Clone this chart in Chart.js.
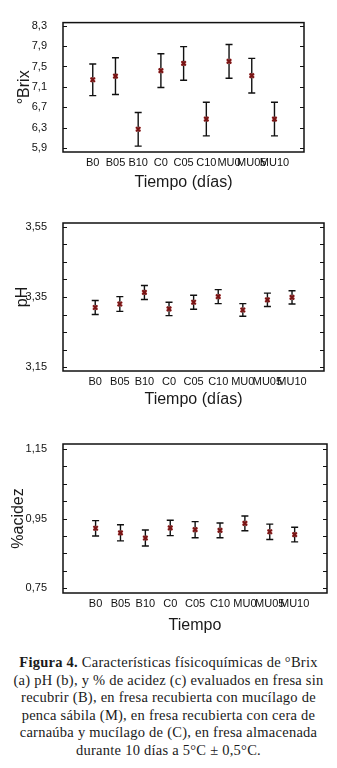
<!DOCTYPE html>
<html>
<head>
<meta charset="utf-8">
<script src="https://cdn.jsdelivr.net/npm/chart.js@4"></script>
<style>
  body { margin: 0; background: #fff; width: 337px; height: 768px; position: relative; overflow: hidden; }
  .panel { position: absolute; left: 0; width: 337px; }
  .caption {
    position: absolute; left: 0; top: 654px; width: 337px;
    text-align: center; font-family: "Liberation Serif", serif;
    font-size: 14.5px; letter-spacing: 0.25px; line-height: 17.5px; color: #1a1a1a;
    white-space: nowrap;
  }
</style>
</head>
<body>
<div class="panel" style="top:0;height:197px"><canvas id="brixChart" width="337" height="197"></canvas></div>
<div class="panel" style="top:200px;height:210px"><canvas id="phChart" width="337" height="210"></canvas></div>
<div class="panel" style="top:420px;height:215px"><canvas id="acidezChart" width="337" height="215"></canvas></div>
<div class="caption">
  <b>Figura 4.</b> Características físicoquímicas de °Brix<br>
  (a) pH (b), y % de acidez (c) evaluados en fresa sin<br>
  recubrir (B), en fresa recubierta con mucílago de<br>
  penca sábila (M), en fresa recubierta con cera de<br>
  carnaúba y mucílago de (C), en fresa almacenada<br>
  durante 10 días a 5°C ± 0,5°C.
</div>
<script>
const categories = ["B0", "B05", "B10", "C0", "C05", "C10", "MU0", "MU05", "MU10"];

const brixValues = [7.24, 7.31, 6.27, 7.42, 7.56, 6.47, 7.60, 7.32, 6.47];
const brixErrors = [0.31, 0.36, 0.33, 0.33, 0.33, 0.33, 0.33, 0.34, 0.33];
const brixTicks = [5.9, 6.3, 6.7, 7.1, 7.5, 7.9, 8.3];
const brixLabels = [5.9, 6.3, 6.7, 7.1, 7.5, 7.9, 8.3];

const phValues = [3.320, 3.330, 3.363, 3.316, 3.335, 3.351, 3.313, 3.342, 3.349];
const phErrors = [0.020, 0.021, 0.020, 0.019, 0.020, 0.020, 0.018, 0.019, 0.019];
const phTicks = [3.15, 3.20, 3.25, 3.30, 3.35, 3.40, 3.45, 3.50, 3.55];
const phLabels = [3.15, 3.35, 3.55];

const acidezValues = [0.922, 0.909, 0.894, 0.923, 0.918, 0.916, 0.936, 0.912, 0.904];
const acidezErrors = [0.022, 0.023, 0.023, 0.022, 0.023, 0.021, 0.021, 0.022, 0.021];
const acidezTicks = [0.75, 0.80, 0.85, 0.90, 0.95, 1.00, 1.05, 1.10, 1.15];
const acidezLabels = [0.75, 0.95, 1.15];

const FONT = "'Liberation Sans', Arial, sans-serif";

// error bars, frame and inward ticks, all placed through the chart scales
const errorBarPlugin = {
  id: "errorBars",
  beforeDatasetsDraw(chart, args, opts) {
    const { ctx, chartArea, scales } = chart;
    const x = scales.x, y = scales.y;
    ctx.save();
    ctx.strokeStyle = "#111";
    ctx.lineWidth = 1.4;
    opts.values.forEach((v, i) => {
      const px = x.getPixelForValue(i);
      const top = y.getPixelForValue(v + opts.errors[i]);
      const bot = y.getPixelForValue(v - opts.errors[i]);
      ctx.beginPath();
      ctx.moveTo(px, top); ctx.lineTo(px, bot);
      ctx.moveTo(px - 3.5, top); ctx.lineTo(px + 3.5, top);
      ctx.moveTo(px - 3.5, bot); ctx.lineTo(px + 3.5, bot);
      ctx.stroke();
    });
    // frame
    ctx.lineWidth = 1.5;
    ctx.strokeRect(chartArea.left, chartArea.top, chartArea.right - chartArea.left, chartArea.bottom - chartArea.top);
    // inward ticks on both sides
    ctx.lineWidth = 1.2;
    y.ticks.forEach((t) => {
      const py = Math.round(y.getPixelForValue(t.value)) + 0.5;
      ctx.beginPath();
      ctx.moveTo(chartArea.left, py); ctx.lineTo(chartArea.left + 4, py);
      ctx.moveTo(chartArea.right, py); ctx.lineTo(chartArea.right - 4, py);
      ctx.stroke();
    });
    ctx.restore();
  }
};

function makeChart(id, values, errors, ticks, labels, box, texts) {
  const points = values.map((v, i) => ({ x: i, y: v }));
  return new Chart(document.getElementById(id).getContext("2d"), {
    type: "scatter",
    data: {
      datasets: [
        { data: points, pointStyle: "crossRot", pointRadius: 3, borderColor: "#7a1414", borderWidth: 2, order: 0 },
        { data: points, pointStyle: "rect", pointRadius: 3.6, backgroundColor: "rgba(214,120,120,0.55)", borderWidth: 0, order: 1 }
      ]
    },
    options: {
      responsive: false,
      animation: false,
      events: [],
      layout: { padding: { top: box.top, right: 337 - box.right, left: 0, bottom: 0 } },
      plugins: {
        legend: { display: false },
        tooltip: { enabled: false },
        errorBars: { values, errors }
      },
      scales: {
        x: {
          type: "linear",
          min: -1.31,
          max: 9.3,
          grid: { display: false, drawTicks: false },
          border: { display: false },
          afterBuildTicks: (s) => { s.ticks = categories.map((c, i) => ({ value: i })); },
          afterFit: (s) => { s.height = box.height - box.bottom; },
          ticks: {
            autoSkip: false, maxRotation: 0, padding: 4,
            color: "#111", font: { family: FONT, size: 11 },
            callback: (v) => categories[v]
          },
          title: { display: true, text: texts.x, color: "#1a1a1a", font: { family: FONT, size: 16 }, padding: { bottom: texts.xPad, top: 0 } }
        },
        y: {
          min: box.min,
          max: box.max,
          grid: { display: false, drawTicks: false },
          border: { display: false },
          afterBuildTicks: (s) => { s.ticks = ticks.map((v) => ({ value: v })); },
          afterFit: (s) => { s.width = 63; },
          ticks: {
            autoSkip: false, padding: 16,
            color: "#111", font: { family: FONT, size: 11 },
            callback: (v) => labels.some((l) => Math.abs(l - v) < 1e-6) ? v.toFixed(String(labels[0]).split(".")[1].length).replace(".", ",") : ""
          },
          title: { display: true, text: texts.y, color: "#1a1a1a", font: { family: FONT, size: 16 }, padding: { top: texts.yPad, bottom: 0 } }
        }
      }
    },
    plugins: [errorBarPlugin]
  });
}

makeChart("brixChart", brixValues, brixErrors, brixTicks, brixLabels,
  { top: 17, bottom: 152, right: 304, height: 197, min: 5.825, max: 8.36 },
  { x: "Tiempo (días)", y: "°Brix", xPad: 5, yPad: 15 });

makeChart("phChart", phValues, phErrors, phTicks, phLabels,
  { top: 23, bottom: 171, right: 324, height: 210, min: 3.139, max: 3.561 },
  { x: "Tiempo (días)", y: "pH", xPad: 1, yPad: 13 });

makeChart("acidezChart", acidezValues, acidezErrors, acidezTicks, acidezLabels,
  { top: 24, bottom: 173, right: 327, height: 215, min: 0.7365, max: 1.1635 },
  { x: "Tiempo", y: "%acidez", xPad: 0, yPad: 9 });
</script>
</body>
</html>
